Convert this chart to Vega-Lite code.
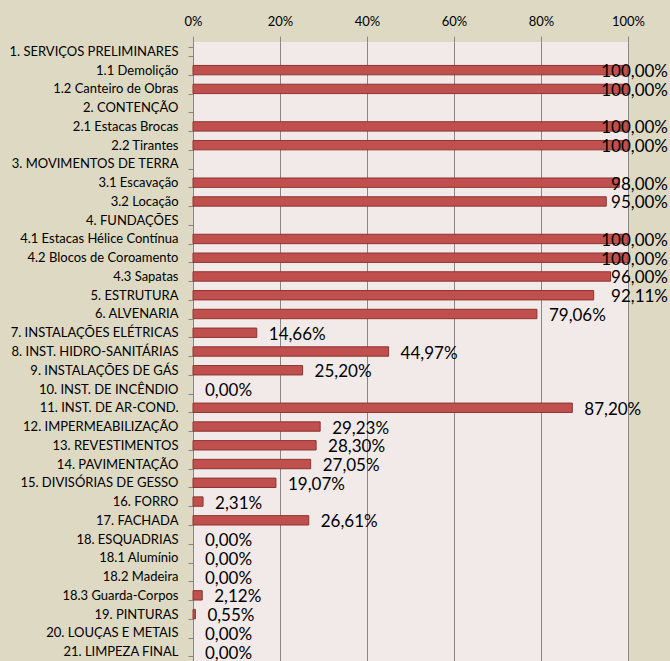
{
  "$schema": "https://vega.github.io/schema/vega-lite/v6.json",
  "width": 435,
  "height": 619,
  "autosize": "none",
  "padding": {"left": 193, "top": 42, "right": 42, "bottom": 0},
  "background": "#DDD9C3",
  "config": {
    "locale": {"number": {"decimal": ",", "thousands": ".", "grouping": [3], "currency": ["R$", ""]}},
    "view": {"fill": "#F2E9E9", "stroke": null},
    "font": "Lato"
  },
  "data": {
    "values": [
      {"item": "1. SERVIÇOS PRELIMINARES", "v": null},
      {"item": "1.1 Demolição", "v": 1.0},
      {"item": "1.2 Canteiro de Obras", "v": 1.0},
      {"item": "2. CONTENÇÃO", "v": null},
      {"item": "2.1 Estacas Brocas", "v": 1.0},
      {"item": "2.2 Tirantes", "v": 1.0},
      {"item": "3. MOVIMENTOS DE TERRA", "v": null},
      {"item": "3.1 Escavação", "v": 0.98},
      {"item": "3.2 Locação", "v": 0.95},
      {"item": "4. FUNDAÇÕES", "v": null},
      {"item": "4.1 Estacas Hélice Contínua", "v": 1.0},
      {"item": "4.2 Blocos de Coroamento", "v": 1.0},
      {"item": "4.3 Sapatas", "v": 0.96},
      {"item": "5. ESTRUTURA", "v": 0.9211},
      {"item": "6. ALVENARIA", "v": 0.7906},
      {"item": "7. INSTALAÇÕES ELÉTRICAS", "v": 0.1466},
      {"item": "8. INST. HIDRO-SANITÁRIAS", "v": 0.4497},
      {"item": "9. INSTALAÇÕES DE GÁS", "v": 0.252},
      {"item": "10. INST. DE INCÊNDIO", "v": 0.0},
      {"item": "11. INST. DE AR-COND.", "v": 0.872},
      {"item": "12. IMPERMEABILIZAÇÃO", "v": 0.2923},
      {"item": "13. REVESTIMENTOS", "v": 0.283},
      {"item": "14. PAVIMENTAÇÃO", "v": 0.2705},
      {"item": "15. DIVISÓRIAS DE GESSO", "v": 0.1907},
      {"item": "16. FORRO", "v": 0.0231},
      {"item": "17. FACHADA", "v": 0.2661},
      {"item": "18. ESQUADRIAS", "v": 0.0},
      {"item": "18.1 Alumínio", "v": 0.0},
      {"item": "18.2 Madeira", "v": 0.0},
      {"item": "18.3 Guarda-Corpos", "v": 0.0212},
      {"item": "19. PINTURAS", "v": 0.0055},
      {"item": "20. LOUÇAS E METAIS", "v": 0.0},
      {"item": "21. LIMPEZA FINAL", "v": 0.0}
    ]
  },
  "encoding": {
    "y": {
      "field": "item",
      "type": "nominal",
      "sort": null,
      "scale": {
        "paddingInner": 0.5,
        "paddingOuter": 0.25,
        "domain": [
          "1. SERVIÇOS PRELIMINARES", "1.1 Demolição", "1.2 Canteiro de Obras",
          "2. CONTENÇÃO", "2.1 Estacas Brocas", "2.2 Tirantes",
          "3. MOVIMENTOS DE TERRA", "3.1 Escavação", "3.2 Locação",
          "4. FUNDAÇÕES", "4.1 Estacas Hélice Contínua", "4.2 Blocos de Coroamento", "4.3 Sapatas",
          "5. ESTRUTURA", "6. ALVENARIA", "7. INSTALAÇÕES ELÉTRICAS", "8. INST. HIDRO-SANITÁRIAS",
          "9. INSTALAÇÕES DE GÁS", "10. INST. DE INCÊNDIO", "11. INST. DE AR-COND.", "12. IMPERMEABILIZAÇÃO",
          "13. REVESTIMENTOS", "14. PAVIMENTAÇÃO", "15. DIVISÓRIAS DE GESSO", "16. FORRO", "17. FACHADA",
          "18. ESQUADRIAS", "18.1 Alumínio", "18.2 Madeira", "18.3 Guarda-Corpos",
          "19. PINTURAS", "20. LOUÇAS E METAIS", "21. LIMPEZA FINAL"
        ]
      },
      "axis": {
        "title": null,
        "tickBand": "extent",
        "tickSize": 5,
        "tickColor": "#868686",
        "domainColor": "#868686",
        "labelPadding": 10,
        "labelFont": "Lato",
        "labelFontSize": 13,
        "labelColor": "#000000",
        "grid": false
      }
    }
  },
  "layer": [
    {
      "mark": {"type": "bar", "color": "#C0504D", "stroke": "#8E3432"},
      "encoding": {
        "x": {
          "field": "v",
          "type": "quantitative",
          "scale": {"domain": [0, 1], "nice": false},
          "axis": {
            "orient": "top",
            "title": null,
            "values": [0, 0.2, 0.4, 0.6, 0.8, 1],
            "format": ".0%",
            "grid": true,
            "gridColor": "#878787",
            "gridWidth": 1,
            "tickSize": 6,
            "tickColor": "#878787",
            "domain": false,
            "labelPadding": 8,
            "labelFont": "Lato",
            "labelFontSize": 13,
            "labelColor": "#000000",
            "labelFlush": false
          }
        },
        "strokeWidth": {"condition": {"test": "datum.v > 0.001", "value": 1}, "value": 0}
      }
    },
    {
      "transform": [{"filter": "datum.v != null && datum.v <= 0.9"}],
      "mark": {"type": "text", "align": "left", "baseline": "middle", "dx": 12, "dy": 2, "fontSize": 17, "font": "Lato", "color": "#000000"},
      "encoding": {
        "x": {"field": "v", "type": "quantitative"},
        "text": {"field": "v", "type": "quantitative", "format": ".2%"}
      }
    },
    {
      "transform": [{"filter": "datum.v != null && datum.v > 0.9"}],
      "mark": {"type": "text", "align": "right", "baseline": "middle", "dx": 40, "dy": 2, "fontSize": 17, "font": "Lato", "color": "#000000"},
      "encoding": {
        "x": {"datum": 1},
        "text": {"field": "v", "type": "quantitative", "format": ".2%"}
      }
    }
  ]
}
